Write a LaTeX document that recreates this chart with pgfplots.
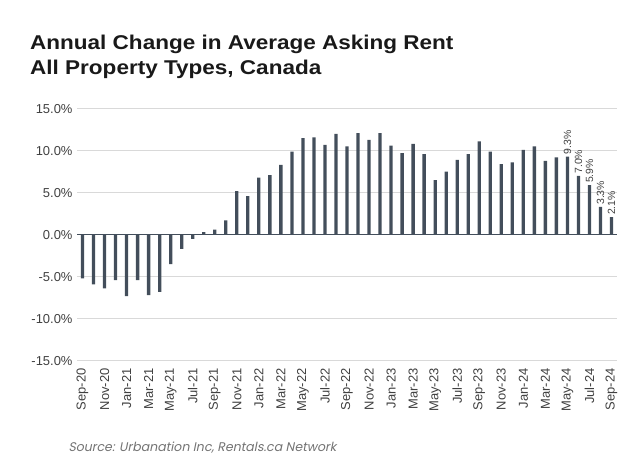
\documentclass[border=0pt]{standalone}
\usepackage{pgfplots}
\pgfplotsset{compat=1.18}
\usepackage{fontspec}
\setmainfont{Liberation Sans}
\newfontfamily\srcfont[FakeSlant=0.2]{Poppins}
\definecolor{barc}{HTML}{434E5B}
\definecolor{gridc}{HTML}{D9D9D9}
\definecolor{txt}{HTML}{404040}
\begin{document}
\begin{tikzpicture}
\useasboundingbox (0,0) rectangle (640bp,476bp);
\begin{axis}[
  at={(77bp,115.3bp)}, anchor=south west,
  scale only axis, width=540bp, height=252bp,
  xmin=-0.5, xmax=48.5, ymin=-15, ymax=15,
  axis line style={draw=none}, tick style={draw=none},
  ymajorgrids, grid style={gridc, line width=1bp},
  ytick={-15,-10,-5,5,10,15},
  extra y ticks={0}, extra y tick style={grid style={barc, line width=1.3bp}},
  /pgf/number format/assume math mode=true,
  yticklabel={\pgfmathprintnumber[fixed,fixed zerofill,precision=1]{\tick}\%},
  yticklabel style={font=\fontsize{13}{15}\selectfont, text=txt, xshift=-1bp},
  xtick={0,2,...,48},
  xticklabels={Sep-20,Nov-20,Jan-21,Mar-21,May-21,Jul-21,Sep-21,Nov-21,Jan-22,Mar-22,May-22,Jul-22,Sep-22,Nov-22,Jan-23,Mar-23,May-23,Jul-23,Sep-23,Nov-23,Jan-24,Mar-24,May-24,Jul-24,Sep-24},
  xticklabel style={rotate=90, anchor=east, font=\fontsize{13}{15}\selectfont, text=txt},
  ybar, bar width=3.3bp,
]
\addplot[fill=barc, draw=none, bar shift=0pt] coordinates {
(0,-5.2) (1,-5.9) (2,-6.4) (3,-5.4) (4,-7.3) (5,-5.4) (6,-7.2) (7,-6.8)
(8,-3.5) (9,-1.7) (10,-0.5) (11,0.3) (12,0.6) (13,1.7) (14,5.2) (15,4.6)
(16,6.8) (17,7.1) (18,8.3) (19,9.9) (20,11.5) (21,11.6) (22,10.7) (23,12.0)
(24,10.5) (25,12.1) (26,11.3) (27,12.1) (28,10.6) (29,9.7) (30,10.8) (31,9.6)
(32,6.5) (33,7.5) (34,8.9) (35,9.6) (36,11.1) (37,9.9) (38,8.4) (39,8.6)
(40,10.1) (41,10.5) (42,8.8) (43,9.2)
};
\addplot[fill=barc, draw=none, bar shift=0pt,
  nodes near coords={\pgfmathprintnumber[fixed,fixed zerofill,precision=1]{\pgfplotspointmeta}\%},
  every node near coord/.append style={rotate=90, anchor=west, font=\fontsize{10.5}{12}\selectfont, text=txt, inner sep=2bp}
] coordinates {
(44,9.3) (45,7.0) (46,5.9) (47,3.3) (48,2.1)
};
\end{axis}
\node[anchor=base west, inner sep=0, font=\bfseries\fontsize{20}{24}\selectfont, text=black!90] at (30bp,426.7bp) {\scalebox{1.13}[1]{Annual Change in Average Asking Rent}};
\node[anchor=base west, inner sep=0, font=\bfseries\fontsize{20}{24}\selectfont, text=black!90] at (30bp,401.7bp) {\scalebox{1.13}[1]{All Property Types, Canada}};
\node[anchor=base west, inner sep=0, font=\srcfont\fontsize{12.6}{14}\selectfont, text=black!55] at (68.3bp,24.3bp) {Source: Urbanation Inc, Rentals.ca Network};
\end{tikzpicture}
\end{document}
